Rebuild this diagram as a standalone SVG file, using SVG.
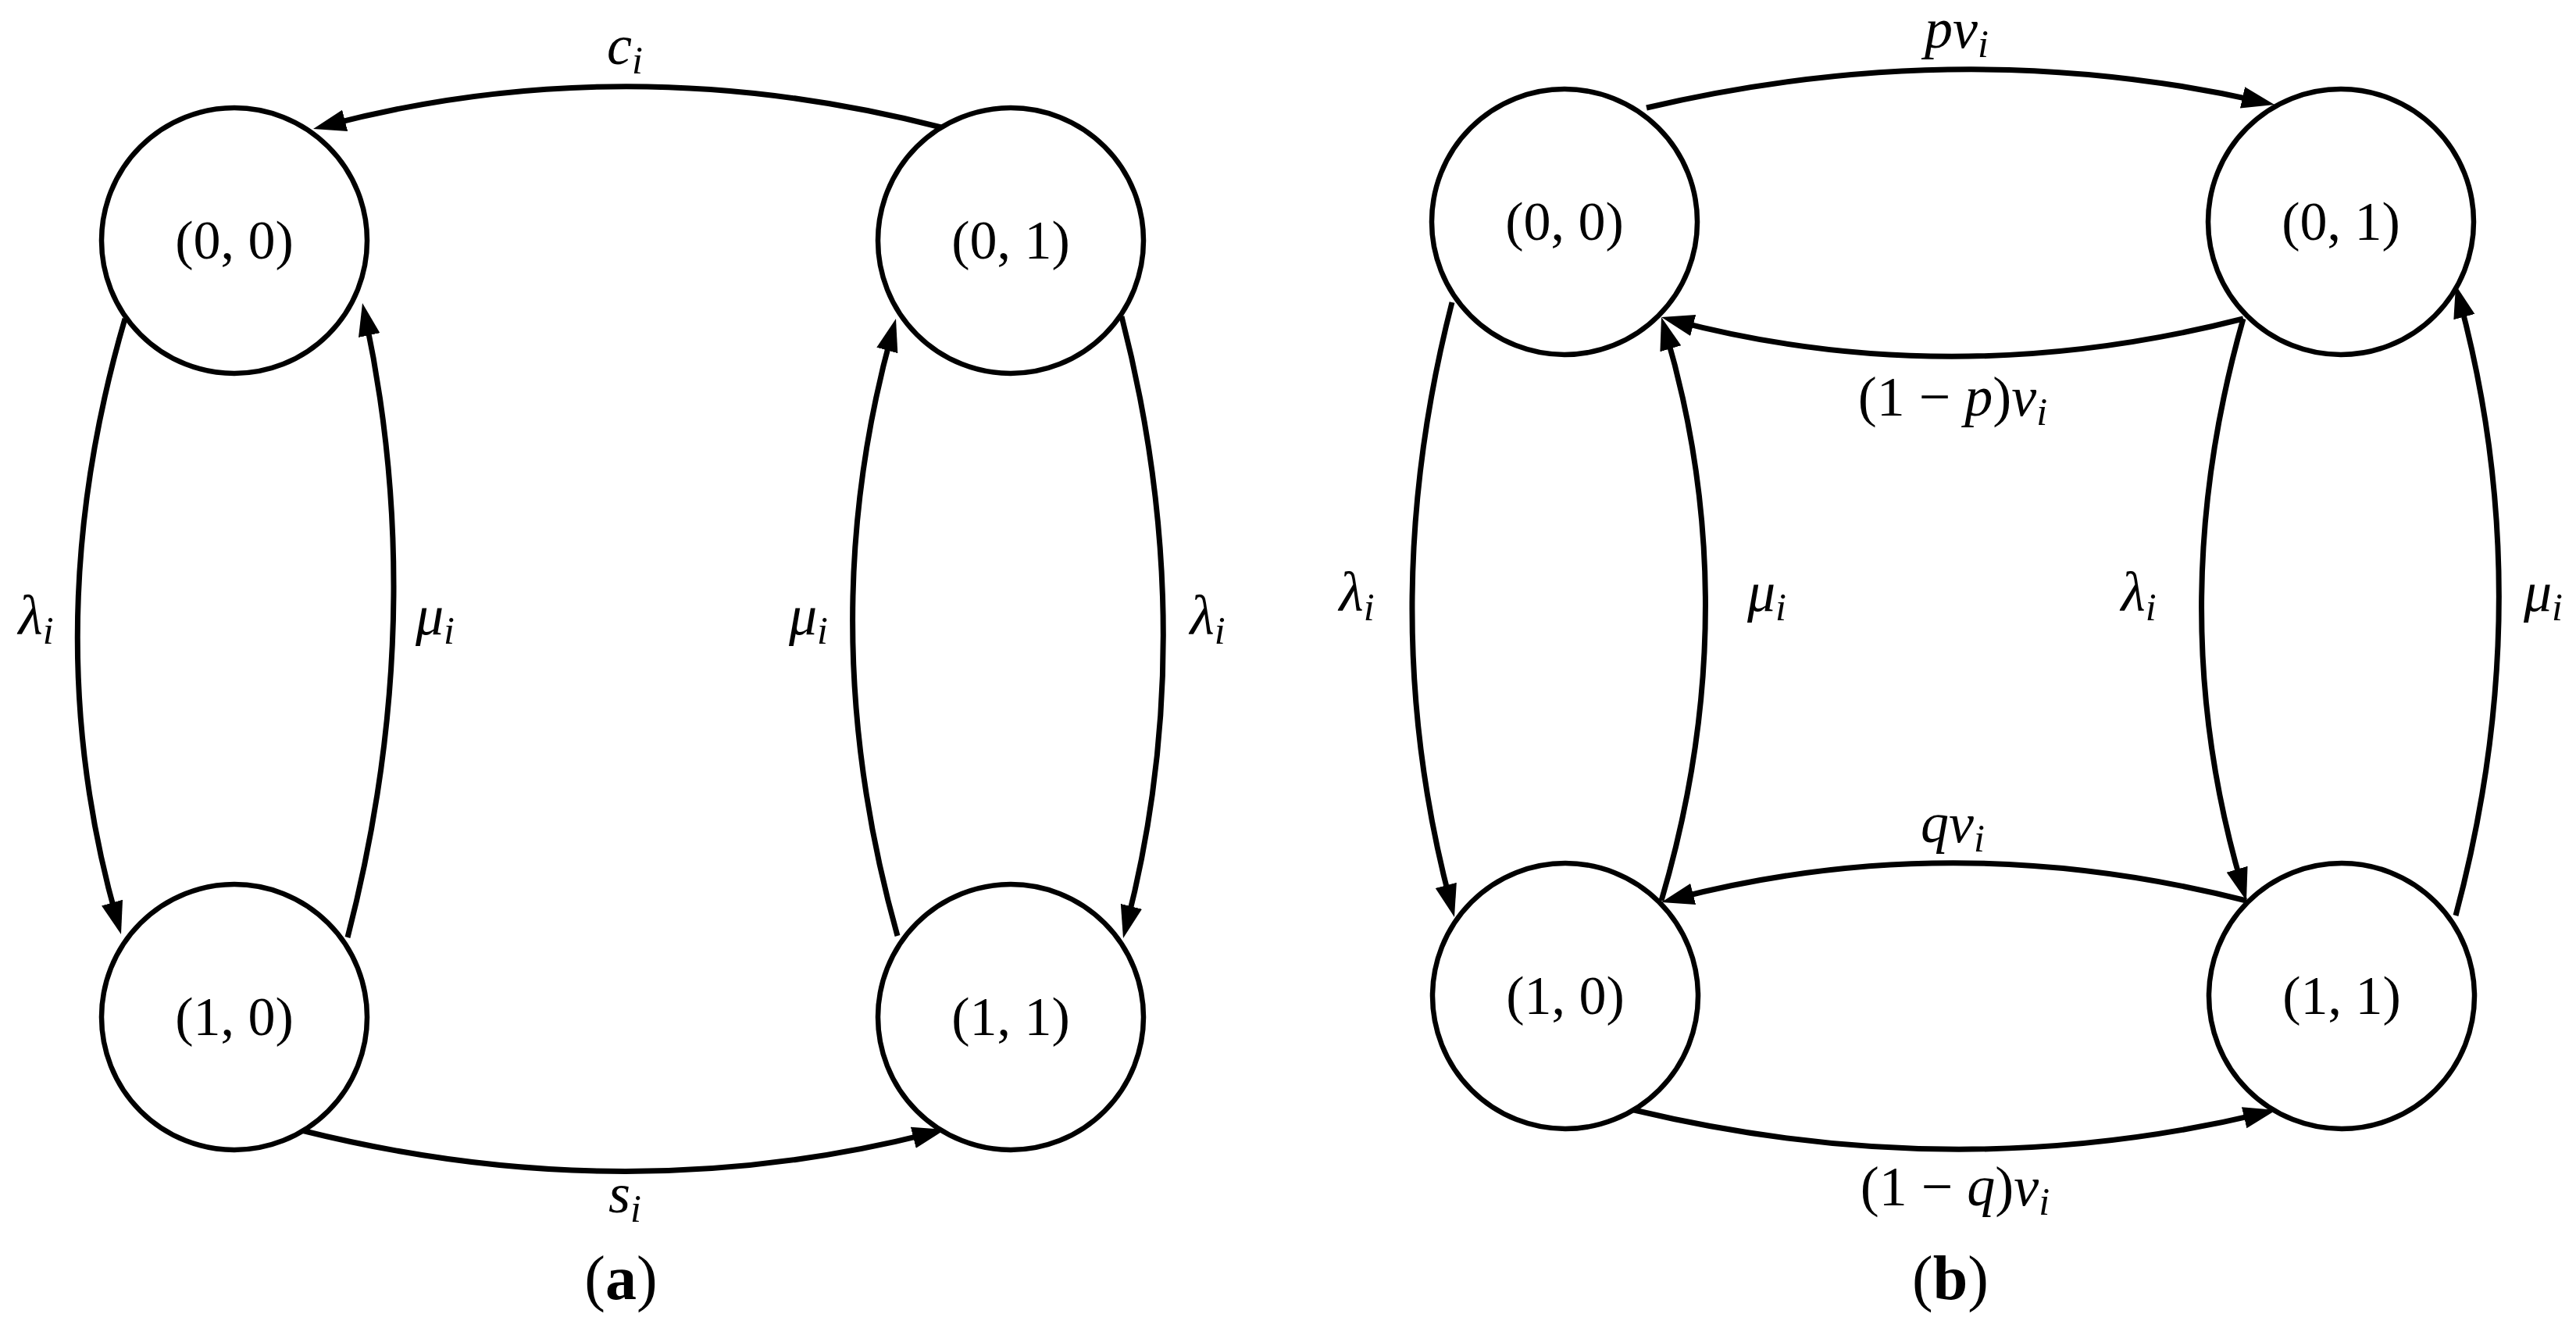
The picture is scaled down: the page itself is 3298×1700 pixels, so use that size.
<svg xmlns="http://www.w3.org/2000/svg" width="3298" height="1700" viewBox="0 0 3298 1700">
<style>
.node circle{fill:#fff;stroke:#000;stroke-width:6.5}
.nl{font-family:"Liberation Serif",serif;font-size:70px;text-anchor:middle;fill:#000}
.el{font-family:"Liberation Serif",serif;font-size:72px;text-anchor:middle;fill:#000}
.it{font-style:italic}
.sub{font-style:italic;font-size:50px}
.cap{font-family:"Liberation Serif",serif;font-size:80px;text-anchor:middle;fill:#000}
#edges path{fill:none;stroke:#000;stroke-width:7}
</style>
<defs>
<marker id="ah" markerUnits="userSpaceOnUse" viewBox="0 0 42 30" markerWidth="42" markerHeight="30" refX="22" refY="15" orient="auto">
<path d="M0,1 L42,15 L0,29 Z" fill="#000"/>
</marker>
</defs>
<rect width="3298" height="1700" fill="#fff"/>
<g id="edges">
<path d="M1205,163 Q803,60 420.35,159.95" marker-end="url(#ah)"/>
<path d="M386,1447 Q798,1550 1190.6,1450.9" marker-end="url(#ah)"/>
<path d="M160,408 Q44,804 149.55,1176.76" marker-end="url(#ah)"/>
<path d="M445,1200 Q550,794 468.14,407.57" marker-end="url(#ah)"/>
<path d="M1149,1198 Q1038,803 1141.68,427.28" marker-end="url(#ah)"/>
<path d="M1436,405 Q1539,806 1442.95,1181.62" marker-end="url(#ah)"/>
<path d="M2108,138 Q2510,44 2892.5,129.6" marker-end="url(#ah)"/>
<path d="M2872,408 Q2500,503 2146.36,411.03" marker-end="url(#ah)"/>
<path d="M1859,387 Q1758,780 1856.9,1154.66" marker-end="url(#ah)"/>
<path d="M2127,1153 Q2237,780 2132.64,425.19" marker-end="url(#ah)"/>
<path d="M2872,408 Q2766,780 2870.34,1133.82" marker-end="url(#ah)"/>
<path d="M3144,1172 Q3252,768 3149.18,384.32" marker-end="url(#ah)"/>
<path d="M2876,1153 Q2502,1058 2146.36,1149.99" marker-end="url(#ah)"/>
<path d="M2092,1421 Q2503,1519 2894.55,1425.64" marker-end="url(#ah)"/>
</g>
<g id="edge-labels">
<text class="el" x="800" y="82"><tspan class="it">c</tspan><tspan class="sub" dy="12">i</tspan></text>
<text class="el" x="800" y="1552"><tspan class="it">s</tspan><tspan class="sub" dy="12">i</tspan></text>
<text class="el" x="46" y="812"><tspan class="it">λ</tspan><tspan class="sub" dy="12">i</tspan></text>
<text class="el" x="557" y="812"><tspan class="it">μ</tspan><tspan class="sub" dy="12">i</tspan></text>
<text class="el" x="1035" y="812"><tspan class="it">μ</tspan><tspan class="sub" dy="12">i</tspan></text>
<text class="el" x="1546" y="812"><tspan class="it">λ</tspan><tspan class="sub" dy="12">i</tspan></text>
<text class="el" x="2505" y="61"><tspan class="it">pv</tspan><tspan class="sub" dy="12">i</tspan></text>
<text class="el" x="2500" y="532">(1 − <tspan class="it">p</tspan>)<tspan class="it">v</tspan><tspan class="sub" dy="12">i</tspan></text>
<text class="el" x="1737" y="782"><tspan class="it">λ</tspan><tspan class="sub" dy="12">i</tspan></text>
<text class="el" x="2262" y="782"><tspan class="it">μ</tspan><tspan class="sub" dy="12">i</tspan></text>
<text class="el" x="2738" y="782"><tspan class="it">λ</tspan><tspan class="sub" dy="12">i</tspan></text>
<text class="el" x="3256" y="782"><tspan class="it">μ</tspan><tspan class="sub" dy="12">i</tspan></text>
<text class="el" x="2500" y="1078"><tspan class="it">qv</tspan><tspan class="sub" dy="12">i</tspan></text>
<text class="el" x="2503" y="1543">(1 − <tspan class="it">q</tspan>)<tspan class="it">v</tspan><tspan class="sub" dy="12">i</tspan></text>
</g>
<g id="a00" class="node"><circle cx="300" cy="308" r="170"/><text class="nl" x="300" y="331">(0, 0)</text></g>
<g id="a01" class="node"><circle cx="1294" cy="308" r="170"/><text class="nl" x="1294" y="331">(0, 1)</text></g>
<g id="a10" class="node"><circle cx="300" cy="1302" r="170"/><text class="nl" x="300" y="1325">(1, 0)</text></g>
<g id="a11" class="node"><circle cx="1294" cy="1302" r="170"/><text class="nl" x="1294" y="1325">(1, 1)</text></g>
<g id="b00" class="node"><circle cx="2003" cy="284" r="170"/><text class="nl" x="2003" y="307">(0, 0)</text></g>
<g id="b01" class="node"><circle cx="2997" cy="284" r="170"/><text class="nl" x="2997" y="307">(0, 1)</text></g>
<g id="b10" class="node"><circle cx="2004" cy="1275" r="170"/><text class="nl" x="2004" y="1298">(1, 0)</text></g>
<g id="b11" class="node"><circle cx="2998" cy="1275" r="170"/><text class="nl" x="2998" y="1298">(1, 1)</text></g>
<text class="cap" x="795" y="1663">(<tspan font-weight="bold">a</tspan>)</text>
<text class="cap" x="2497" y="1663">(<tspan font-weight="bold">b</tspan>)</text>
</svg>
